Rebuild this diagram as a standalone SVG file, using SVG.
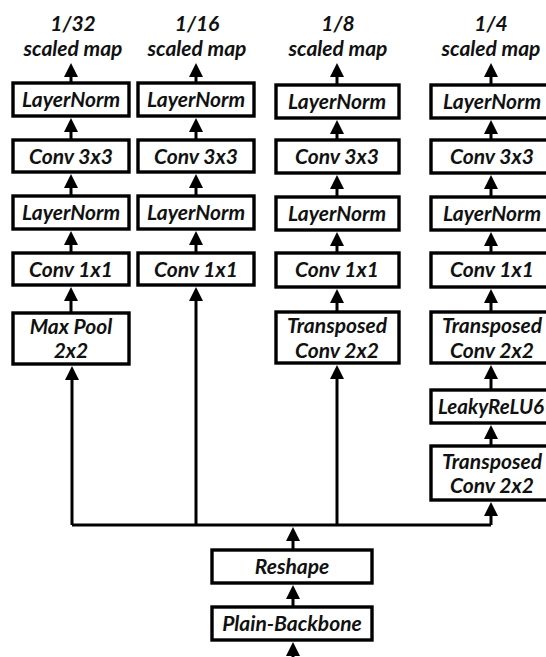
<svg xmlns="http://www.w3.org/2000/svg" width="546" height="657" viewBox="0 0 546 657">
<defs>
<marker id="ah" markerUnits="userSpaceOnUse" markerWidth="14" markerHeight="14" viewBox="0 0 14 14" refX="10" refY="7" orient="auto">
<path d="M0,0 L14,7 L0,14 z" fill="#000"/>
</marker>
<style>
rect.b{fill:#fff;stroke:#000;stroke-width:3.4}
text{font-family:Lato,"Open Sans","Liberation Sans",sans-serif;font-weight:bold;font-style:italic;font-size:21px;fill:#111;text-anchor:middle}
.c{fill:none;stroke:#000;stroke-width:3}
.a{fill:none;stroke:#000;stroke-width:3;marker-end:url(#ah)}
</style>
</defs>
<rect width="546" height="657" fill="#fff"/>
<g id="connectors">
<polyline class="c" points="72,525 491,525"/>
<line class="a" x1="72" y1="525" x2="72" y2="370"/>
<line class="a" x1="196" y1="525" x2="196" y2="291"/>
<line class="a" x1="337" y1="525" x2="337" y2="369"/>
<line class="a" x1="491" y1="525" x2="491" y2="506"/>
<line class="a" x1="293" y1="550" x2="293" y2="531"/>
<line class="a" x1="293" y1="607" x2="293" y2="589"/>
<line class="a" x1="293" y1="657" x2="293" y2="646"/>
<line class="a" x1="71" y1="313" x2="71" y2="291"/>
<line class="a" x1="71" y1="253" x2="71" y2="235"/>
<line class="a" x1="71" y1="196" x2="71" y2="178"/>
<line class="a" x1="71" y1="140" x2="71" y2="122"/>
<line class="a" x1="71" y1="83" x2="71" y2="67"/>
<line class="a" x1="196" y1="253" x2="196" y2="235"/>
<line class="a" x1="196" y1="196" x2="196" y2="178"/>
<line class="a" x1="196" y1="140" x2="196" y2="122"/>
<line class="a" x1="196" y1="83" x2="196" y2="67"/>
<line class="a" x1="337" y1="312" x2="337" y2="293"/>
<line class="a" x1="337" y1="253" x2="337" y2="236"/>
<line class="a" x1="337" y1="197" x2="337" y2="179"/>
<line class="a" x1="337" y1="140" x2="337" y2="124"/>
<line class="a" x1="337" y1="85" x2="337" y2="67"/>
<line class="a" x1="491" y1="446" x2="491" y2="429"/>
<line class="a" x1="491" y1="390" x2="491" y2="369"/>
<line class="a" x1="491" y1="312" x2="491" y2="293"/>
<line class="a" x1="491" y1="253" x2="491" y2="236"/>
<line class="a" x1="491" y1="197" x2="491" y2="179"/>
<line class="a" x1="491" y1="140" x2="491" y2="124"/>
<line class="a" x1="491" y1="85" x2="491" y2="67"/>
</g>
<g id="titles">
<text x="73" y="31">1/32</text><text x="73" y="56">scaled map</text>
<text x="197" y="31">1/16</text><text x="197" y="56">scaled map</text>
<text x="338" y="31">1/8</text><text x="338" y="56">scaled map</text>
<text x="491" y="31">1/4</text><text x="491" y="56">scaled map</text>
</g>
<g id="c1-layernorm1"><rect class="b" x="13" y="83" width="116" height="33"/><text x="71" y="107">LayerNorm</text></g>
<g id="c1-conv3"><rect class="b" x="13" y="140" width="116" height="32"/><text x="71" y="164">Conv 3x3</text></g>
<g id="c1-layernorm2"><rect class="b" x="13" y="196" width="116" height="33"/><text x="71" y="220">LayerNorm</text></g>
<g id="c1-conv1"><rect class="b" x="13" y="253" width="116" height="32"/><text x="71" y="277">Conv 1x1</text></g>
<g id="c1-maxpool"><rect class="b" x="13" y="313" width="116" height="51"/><text x="71" y="334">Max Pool</text><text x="71" y="358">2x2</text></g>
<g id="c2-layernorm1"><rect class="b" x="138" y="83" width="116" height="33"/><text x="196" y="107">LayerNorm</text></g>
<g id="c2-conv3"><rect class="b" x="138" y="140" width="116" height="32"/><text x="196" y="164">Conv  3x3</text></g>
<g id="c2-layernorm2"><rect class="b" x="138" y="196" width="116" height="33"/><text x="196" y="220">LayerNorm</text></g>
<g id="c2-conv1"><rect class="b" x="138" y="253" width="116" height="32"/><text x="196" y="277">Conv 1x1</text></g>
<g id="c3-layernorm1"><rect class="b" x="276" y="85" width="123" height="33"/><text x="337" y="109">LayerNorm</text></g>
<g id="c3-conv3"><rect class="b" x="276" y="140" width="123" height="33"/><text x="337" y="164">Conv 3x3</text></g>
<g id="c3-layernorm2"><rect class="b" x="276" y="197" width="123" height="33"/><text x="337" y="221">LayerNorm</text></g>
<g id="c3-conv1"><rect class="b" x="276" y="253" width="123" height="34"/><text x="337" y="277">Conv 1x1</text></g>
<g id="c3-transposed"><rect class="b" x="276" y="312" width="123" height="51"/><text x="337" y="333">Transposed</text><text x="337" y="358">Conv 2x2</text></g>
<g id="c4-layernorm1"><rect class="b" x="431" y="85" width="122" height="33"/><text x="492" y="109">LayerNorm</text></g>
<g id="c4-conv3"><rect class="b" x="431" y="140" width="122" height="33"/><text x="492" y="164">Conv 3x3</text></g>
<g id="c4-layernorm2"><rect class="b" x="431" y="197" width="122" height="33"/><text x="492" y="221">LayerNorm</text></g>
<g id="c4-conv1"><rect class="b" x="431" y="253" width="122" height="34"/><text x="492" y="277">Conv 1x1</text></g>
<g id="c4-transposed1"><rect class="b" x="431" y="312" width="122" height="51"/><text x="492" y="333">Transposed</text><text x="492" y="358">Conv 2x2</text></g>
<g id="c4-leaky"><rect class="b" x="431" y="390" width="122" height="33"/><text x="438" y="414" style="text-anchor:start" textLength="106" lengthAdjust="spacingAndGlyphs">LeakyReLU6</text></g>
<g id="c4-transposed2"><rect class="b" x="431" y="446" width="122" height="54"/><text x="492" y="469">Transposed</text><text x="492" y="493">Conv 2x2</text></g>
<g id="reshape"><rect class="b" x="212" y="550" width="160" height="33"/><text x="292" y="574">Reshape</text></g>
<g id="backbone"><rect class="b" x="212" y="607" width="160" height="33"/><text x="292" y="631">Plain-Backbone</text></g>
</svg>
